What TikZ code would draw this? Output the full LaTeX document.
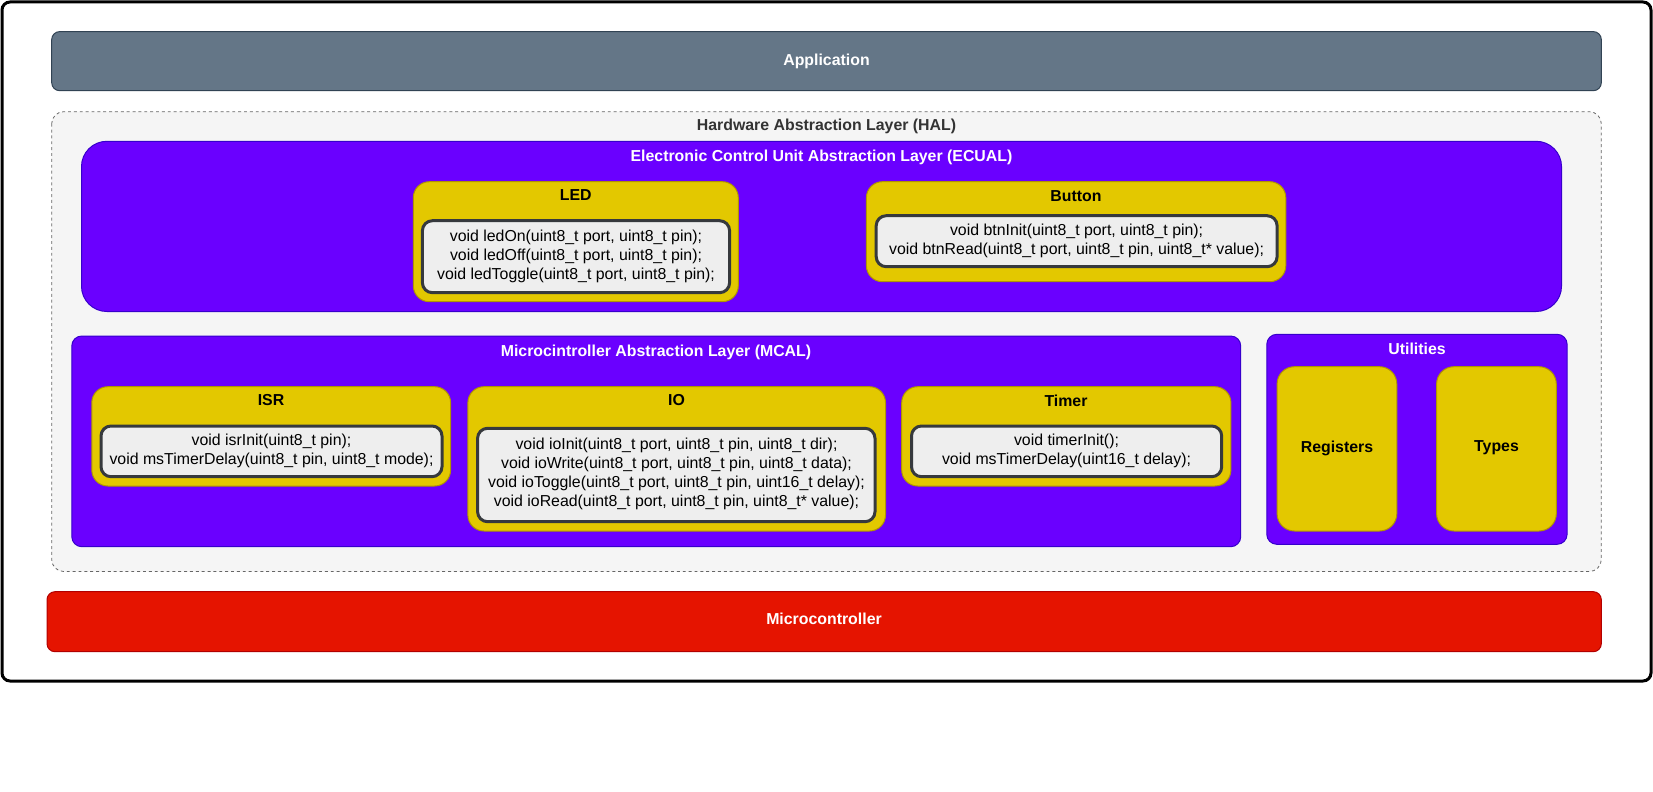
\documentclass[tikz,border=0pt]{standalone}
\usepackage{fontspec}
\setmainfont{Liberation Sans}
\definecolor{appfill}{HTML}{647687}
\definecolor{appline}{HTML}{314354}
\definecolor{halfill}{HTML}{F5F5F5}
\definecolor{halline}{HTML}{666666}
\definecolor{haltext}{HTML}{333333}
\definecolor{layerfill}{HTML}{6A00FF}
\definecolor{layerline}{HTML}{3700CC}
\definecolor{modfill}{HTML}{E3C800}
\definecolor{modline}{HTML}{B09500}
\definecolor{apifill}{HTML}{EEEEEE}
\definecolor{apiline}{HTML}{36393D}
\definecolor{mcufill}{HTML}{E51400}
\definecolor{mculine}{HTML}{B20000}
\newcommand{\diagfont}{\fontsize{11.9pt}{14.3pt}\selectfont}
\tikzset{
  every node/.style={font=\diagfont, inner sep=0pt},
  frame/.style={draw=black, line width=2.25pt, rounded corners=6pt},
  appstyle/.style={fill=appfill, draw=appline, line width=0.75pt, rounded corners=6pt},
  halstyle/.style={fill=halfill, draw=halline, line width=0.6pt, dash pattern=on 2.2pt off 2.2pt, rounded corners=9pt},
  layerstyle/.style={fill=layerfill, draw=layerline, line width=0.75pt},
  modstyle/.style={fill=modfill, draw=modline, line width=0.75pt, rounded corners=12pt},
  apistyle/.style={fill=apifill, draw=apiline, line width=2.25pt, rounded corners=7.5pt},
  mcustyle/.style={fill=mcufill, draw=mculine, line width=0.75pt, rounded corners=6pt},
  whitetitle/.style={font=\diagfont\bfseries, text=white},
  blacktitle/.style={font=\diagfont\bfseries, text=black},
  apitext/.style={align=center, text=black}
}
\begin{document}
\begin{tikzpicture}[x=0.75pt, y=-0.75pt]
    \def\framebox{(2,2) rectangle (1651,681)}
    \def\appbox{(51.7,31.6) rectangle (1601.3,90.7)}
    \def\halbox{(51.7,111.7) rectangle (1601.3,571.5)}
    \def\ecualbox{(81.5,141.3) rectangle (1561.5,311.5)}
    \def\mcalbox{(71.8,336) rectangle (1240.7,546.7)}
    \def\utilbox{(1266.8,334.3) rectangle (1567.1,544.3)}
    \def\mcubox{(47,591.7) rectangle (1601.3,651.7)}

    \useasboundingbox (0,0) rectangle (1653,792);
    \fill[white] (0,0) rectangle (1653,792);
    \draw[frame] \framebox;

    \draw[appstyle] \appbox;
    \node[whitetitle] (app) at (826.5,61.5) {Application};

    \draw[halstyle] \halbox;
    \node[font=\diagfont\bfseries, text=haltext] (hal) at (826.5,126.5) {Hardware Abstraction Layer (HAL)};

    \draw[layerstyle, rounded corners=19pt] \ecualbox;
    \node[whitetitle] (ecual) at (821.5,157.3) {Electronic Control Unit Abstraction Layer (ECUAL)};

    \draw[modstyle] (413.3,181.7) rectangle (738.3,301.7);
    \node[blacktitle] (led) at (575.8,195.5) {LED};
    \draw[apistyle] (422.4,220.7) rectangle (729.6,292.7);
    \node[apitext] (ledapi) at (576,256) {void ledOn(uint8\_t port, uint8\_t pin);\\void ledOff(uint8\_t port, uint8\_t pin);\\void ledToggle(uint8\_t port, uint8\_t pin);};

    \draw[modstyle] (866.4,181.7) rectangle (1285.8,281.7);
    \node[blacktitle] (button) at (1076,196.5) {Button};
    \draw[apistyle] (876.2,215.7) rectangle (1277.1,266.7);
    \node[apitext] (buttonapi) at (1076.6,241) {void btnInit(uint8\_t port, uint8\_t pin);\\void btnRead(uint8\_t port, uint8\_t pin, uint8\_t* value);};

    \draw[layerstyle, rounded corners=7.5pt] \mcalbox;
    \node[whitetitle] (mcal) at (656,352.7) {Microcintroller Abstraction Layer (MCAL)};

    \draw[modstyle] (91.8,386.7) rectangle (450.6,486);
    \node[blacktitle] (isr) at (271,400.5) {ISR};
    \draw[apistyle] (101,426) rectangle (442,476.7);
    \node[apitext] (israpi) at (271.5,451) {void isrInit(uint8\_t pin);\\void msTimerDelay(uint8\_t pin, uint8\_t mode);};

    \draw[modstyle] (467.9,386.7) rectangle (885.5,531);
    \node[blacktitle] (io) at (676.5,400.5) {IO};
    \draw[apistyle] (477.6,428.3) rectangle (875,521.7);
    \node[apitext] (ioapi) at (676.5,474) {void ioInit(uint8\_t port, uint8\_t pin, uint8\_t dir);\\void ioWrite(uint8\_t port, uint8\_t pin, uint8\_t data);\\void ioToggle(uint8\_t port, uint8\_t pin, uint16\_t delay);\\void ioRead(uint8\_t port, uint8\_t pin, uint8\_t* value);};

    \draw[modstyle] (901.7,386.7) rectangle (1230.9,486);
    \node[blacktitle] (timer) at (1066,400.5) {Timer};
    \draw[apistyle] (911.5,426) rectangle (1221.7,476.7);
    \node[apitext] (timerapi) at (1066.5,451) {void timerInit();\\void msTimerDelay(uint16\_t delay);};

    \draw[layerstyle, rounded corners=7.5pt] \utilbox;
    \node[whitetitle] (util) at (1417,349.3) {Utilities};
    \draw[modstyle, rounded corners=13pt] (1277.1,366.7) rectangle (1396.8,531);
    \node[blacktitle] (registers) at (1337,448) {Registers};
    \draw[modstyle, rounded corners=13pt] (1436.6,366.7) rectangle (1556.3,531);
    \node[blacktitle] (types) at (1496.5,448) {Types};

    \draw[mcustyle] \mcubox;
    \node[whitetitle] (mcu) at (824,619) {Microcontroller};
\end{tikzpicture}
\end{document}
